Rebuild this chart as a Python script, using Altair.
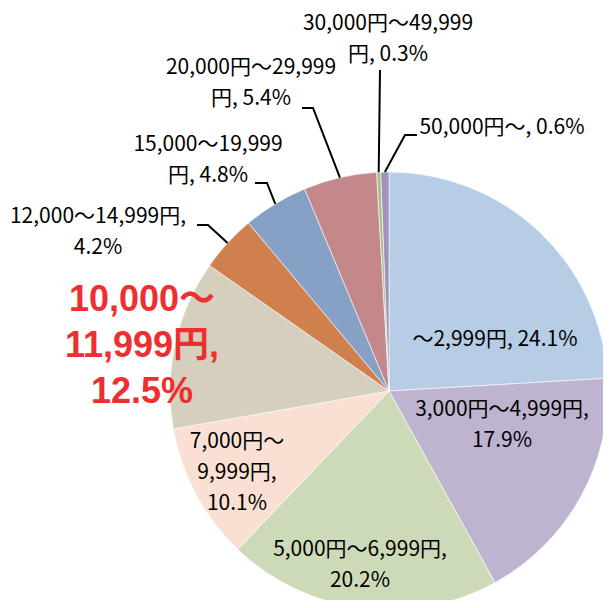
import math
import altair as alt
import pandas as pd

# ---- data ----
categories = ["～2,999円", "3,000円～4,999円", "5,000円～6,999円", "7,000円～9,999円",
              "10,000～11,999円", "12,000～14,999円", "15,000～19,999円",
              "20,000円～29,999円", "30,000円～49,999円", "50,000円～"]
shares = [24.1, 17.9, 20.2, 10.1, 12.5, 4.2, 4.8, 5.4, 0.3, 0.6]
label_lines = [
    ["～2,999円, 24.1%"],
    ["3,000円～4,999円,", "17.9%"],
    ["5,000円～6,999円,", "20.2%"],
    ["7,000円～", "9,999円,", "10.1%"],
    ["10,000～", "11,999円,", "12.5%"],
    ["12,000～14,999円,", "4.2%"],
    ["15,000～19,999", "円, 4.8%"],
    ["20,000円～29,999", "円, 5.4%"],
    ["30,000円～49,999", "円, 0.3%"],
    ["50,000円～, 0.6%"],
]

# ---- layout / style ----
colors = ["#B7CDE5", "#BFB4D0", "#CDDAB8", "#FAE0D3", "#D5CFBD",
          "#D0804C", "#87A0C6", "#C4888A", "#A6C18A", "#9E91BA"]
CX, CY, R = 381, 383, 219
W, H = 595, 592
# first-line centre of each label, in pixels
label_pos = [(487, 332), (494, 402), (352, 542), (229, 434), (134, 292),
             (90, 209), (200, 137), (243, 60), (380, 16), (494, 120)]
# leader lines: (start, elbow) in pixels; end point is the slice mid-angle on the rim
leaders = {5: ((189, 217), (200, 217)),
           6: ((247, 175), (259, 175)),
           7: ((294, 100), (305, 100)),
           8: ((372, 62), (372, 62)),
           9: ((409, 127), (397, 127))}

pie_df = pd.DataFrame({"cat": categories, "value": shares, "idx": range(len(categories))})

total = sum(shares)
cum = 0.0
mids = []
for v in shares:
    mids.append((cum + v / 2) / total * 2 * math.pi)
    cum += v

rows = []
for i, (s, e) in leaders.items():
    a = mids[i]
    end = (CX + R * math.sin(a), CY - R * math.cos(a))
    for k, p in enumerate([s, e, end]):
        rows.append({"id": i, "k": k, "px": p[0], "py": p[1]})
lead_df = pd.DataFrame(rows)

idx_black = [i for i in range(len(categories)) if i != 4]
lab_df = pd.DataFrame({
    "text": [label_lines[i] for i in idx_black],
    "px": [label_pos[i][0] for i in idx_black],
    "py": [label_pos[i][1] for i in idx_black],
})
red_df = pd.DataFrame({"text": [label_lines[4]], "px": [label_pos[4][0]], "py": [label_pos[4][1]]})

pie = alt.Chart(pie_df).mark_arc(outerRadius=R, stroke="white", strokeWidth=0.6).encode(
    theta=alt.Theta("value:Q", stack=True),
    color=alt.Color("cat:N", scale=alt.Scale(domain=categories, range=colors), legend=None),
    order=alt.Order("idx:Q"),
    x=alt.value(CX), y=alt.value(CY),
)

lines = alt.Chart(lead_df).mark_line(color="black", strokeWidth=2).encode(
    x=alt.X("px:Q", scale=None), y=alt.Y("py:Q", scale=None),
    detail="id:N", order="k:Q",
)

labels = alt.Chart(lab_df).mark_text(
    font="Noto Sans CJK JP", fontSize=21, align="center", baseline="middle",
    lineHeight=31, color="black",
).encode(x=alt.X("px:Q", scale=None), y=alt.Y("py:Q", scale=None), text="text")

red = alt.Chart(red_df).mark_text(
    font="Liberation Sans, Noto Sans CJK JP", fontSize=36, fontWeight="bold",
    align="center", baseline="middle", lineHeight=46, color="#EE2F2F",
).encode(x=alt.X("px:Q", scale=None), y=alt.Y("py:Q", scale=None), text="text")

chart = alt.layer(pie, lines, labels, red).properties(
    width=W, height=H, padding=0, autosize=alt.AutoSizeParams(type="none"),
    background="white",
).configure_view(stroke=None)

chart.save("out.html", embed_options={"renderer": "svg", "actions": False})
